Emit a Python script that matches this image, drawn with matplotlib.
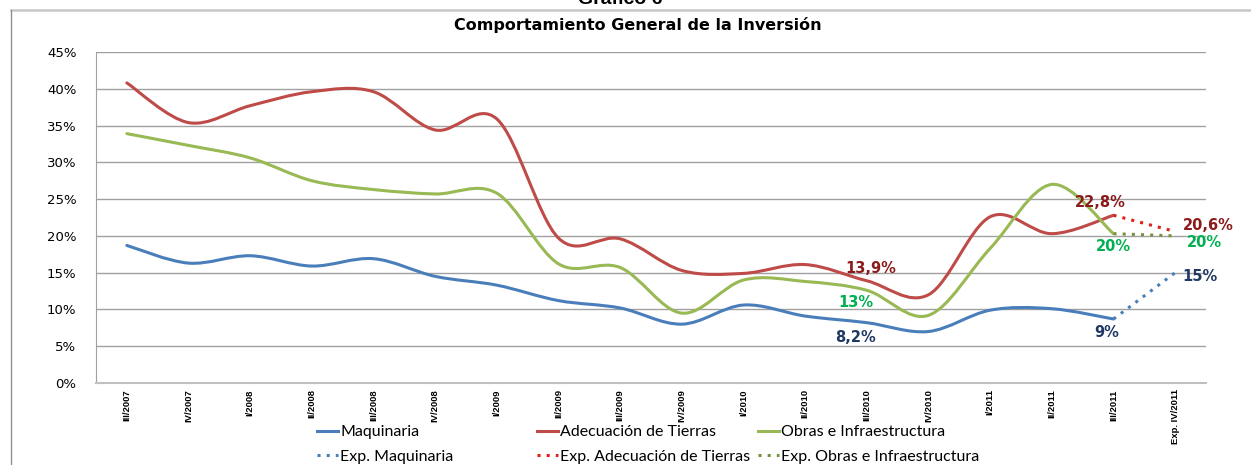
import matplotlib
matplotlib.use("Agg")
import matplotlib.pyplot as plt
from matplotlib.path import Path
from matplotlib.patches import PathPatch
from matplotlib.lines import Line2D
import numpy as np

categories = ['III/2007', 'IV/2007', 'I/2008', 'II/2008', 'III/2008', 'IV/2008',
              'I/2009', 'II/2009', 'III/2009', 'IV/2009', 'I/2010', 'II/2010',
              'III/2010', 'IV/2010', 'I/2011', 'II/2011', 'III/2011', 'Exp. IV/2011']

maquinaria = [18.7, 16.3, 17.3, 15.9, 16.9, 14.5, 13.3, 11.2, 10.2, 8.0, 10.6, 9.1,
              8.2, 7.0, 9.9, 10.1, 8.7]
adecuacion = [40.8, 35.4, 37.7, 39.6, 39.6, 34.4, 35.9, 19.7, 19.6, 15.3, 14.9, 16.1,
              13.9, 12.0, 22.6, 20.3, 22.8]
obras = [33.9, 32.3, 30.6, 27.5, 26.3, 25.7, 25.8, 16.2, 15.7, 9.5, 14.0, 13.8,
         12.6, 9.2, 18.3, 27.0, 20.3]

exp_maquinaria = [8.7, 15.0]
exp_adecuacion = [22.8, 20.6]
exp_obras = [20.3, 20.0]

C_MAQ = '#4A7EBB'
C_ADE = '#BE4B48'
C_OBR = '#98B954'
C_EXP_MAQ = '#4A7EBB'
C_EXP_ADE = '#E0201B'
C_EXP_OBR = '#76923C'
L_RED = '#8B1A1A'
L_GRN = '#00B050'
L_BLU = '#1F3864'


def smooth_path(xs, ys):
    pts = np.column_stack([xs, ys]).astype(float)
    n = len(pts)
    verts = [pts[0]]
    codes = [Path.MOVETO]
    for i in range(n - 1):
        p0 = pts[i - 1] if i > 0 else pts[i]
        p1 = pts[i]
        p2 = pts[i + 1]
        p3 = pts[i + 2] if i + 2 < n else pts[i + 1]
        c1 = p1 + (p2 - p0) / 6.0
        c2 = p2 - (p3 - p1) / 6.0
        verts += [c1, c2, p2]
        codes += [Path.CURVE4] * 3
    return Path(verts, codes)


W, H = 1251, 465
fig = plt.figure(figsize=(W / 100, H / 100), dpi=100)
ax = fig.add_axes([96 / W, 1 - 383 / H, (1206 - 96) / W, (383 - 52) / H])

x = np.arange(len(categories))
for data, col in [(maquinaria, C_MAQ), (adecuacion, C_ADE), (obras, C_OBR)]:
    xi = x[:len(data)]
    ax.add_patch(PathPatch(smooth_path(xi, data), fill=False, edgecolor=col, lw=2.2,
                           capstyle='round', joinstyle='round'))

xe = x[len(maquinaria) - 1:len(maquinaria) + 1]
ax.plot(xe, exp_maquinaria, color=C_EXP_MAQ, lw=2.2, ls=(0, (1, 2)))
ax.plot(xe, exp_adecuacion, color=C_EXP_ADE, lw=2.2, ls=(0, (1, 2)))
ax.plot(xe, exp_obras, color=C_EXP_OBR, lw=2.2, ls=(0, (1, 2)))

ax.set_xlim(-0.5, len(categories) - 0.5)
ax.set_ylim(0, 45)
ax.set_yticks(np.arange(0, 46, 5))
ax.set_yticklabels([f'{v}%' for v in range(0, 46, 5)], fontsize=9.5,
                   family='DejaVu Sans')
ax.set_xticks(x)
ax.set_xticklabels(categories, rotation=90, fontsize=6.8, fontweight='bold',
                   family=['Liberation Sans', 'DejaVu Sans'])
ax.tick_params(axis='y', length=0, pad=14)
ax.tick_params(axis='x', length=0, pad=4.5)
ax.grid(axis='y', color='#A0A0A0', lw=1.0)
ax.set_axisbelow(True)
for s in ['top', 'right']:
    ax.spines[s].set_visible(False)
ax.spines['left'].set_color('#A0A0A0')
ax.spines['bottom'].set_color('#C0C0C0')
ax.spines['bottom'].set_linewidth(1.5)

lab_kw = dict(textcoords='offset pixels', fontsize=10.5, fontweight='bold',
              family='DejaVu Sans', ha='center', va='center')
i3 = 12
ax.annotate('13,9%', (x[i3], adecuacion[i3]), xytext=(4, 12), color=L_RED, **lab_kw)
ax.annotate('13%', (x[i3], obras[i3]), xytext=(-11, -12), color=L_GRN, **lab_kw)
ax.annotate('8,2%', (x[i3], maquinaria[i3]), xytext=(-11, -15), color=L_BLU, **lab_kw)
i16 = 16
ax.annotate('22,8%', (x[i16], adecuacion[i16]), xytext=(-13, 13), color=L_RED, **lab_kw)
ax.annotate('20%', (x[i16], obras[i16]), xytext=(0, -13), color=L_GRN, **lab_kw)
ax.annotate('9%', (x[i16], maquinaria[i16]), xytext=(-7, -13), color=L_BLU, **lab_kw)
i17 = 17
ax.annotate('20,6%', (x[i17], exp_adecuacion[1]), xytext=(33, 6), color=L_RED, **lab_kw)
ax.annotate('20%', (x[i17], exp_obras[1]), xytext=(29, -7), color=L_GRN, **lab_kw)
ax.annotate('15%', (x[i17], exp_maquinaria[1]), xytext=(25, -4), color=L_BLU, **lab_kw)

fig.text(638 / W, 1 - 25 / H, 'Comportamiento General de la Inversión', ha='center',
         va='center', fontsize=11.5, fontweight='bold', family='DejaVu Sans')
fig.text(620 / W, 1.0, 'Gráfico 6', ha='center', va='center', fontsize=14,
         fontweight='bold', family='Liberation Sans')

# chart frame lines
fig.add_artist(Line2D([11 / W, 1], [1 - 10 / H] * 2, color='#C8C8C8', lw=1.8))
fig.add_artist(Line2D([11 / W] * 2, [0, 1 - 10 / H], color='#909090', lw=1.0))

legend_cols = [
    (317, [Line2D([], [], color=C_MAQ, lw=2.2),
           Line2D([], [], color=C_EXP_MAQ, lw=2.2, ls=(0, (1, 2)))],
     ['Maquinaria', 'Exp. Maquinaria']),
    (537, [Line2D([], [], color=C_ADE, lw=2.2),
           Line2D([], [], color=C_EXP_ADE, lw=2.2, ls=(0, (1, 2)))],
     ['Adecuación de Tierras', 'Exp. Adecuación de Tierras']),
    (758, [Line2D([], [], color=C_OBR, lw=2.2),
           Line2D([], [], color=C_EXP_OBR, lw=2.2, ls=(0, (1, 2)))],
     ['Obras e Infraestructura', 'Exp. Obras e Infraestructura']),
]
for xpix, hs, ls in legend_cols:
    leg = fig.legend(hs, ls, loc='center left', bbox_to_anchor=(xpix / W, 1 - 444.5 / H),
                     frameon=False, handlelength=1.3, handletextpad=0.15,
                     borderpad=0, borderaxespad=0, labelspacing=0.65,
                     prop={'family': ['Lato', 'DejaVu Sans'], 'size': 11.5})

fig.savefig('out.png', dpi=100, facecolor='white')
